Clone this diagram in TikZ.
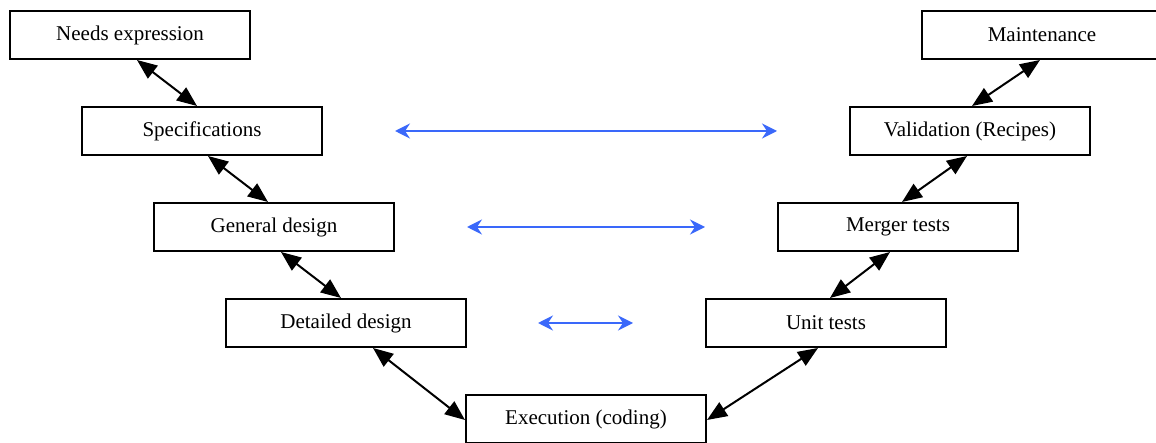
\documentclass[tikz,border=0pt]{standalone}
\usepackage{fontspec}
\setmainfont{Liberation Serif}
\usepackage{tikz}
\usetikzlibrary{arrows.meta}
\definecolor{linkblue}{RGB}{58,104,250}

\begin{document}
\begin{tikzpicture}[x=1pt,y=-1pt,
  phase/.style={draw, line width=2pt, rectangle, minimum width=240pt, minimum height=48pt,
    inner sep=0pt, font=\fontsize{21}{25}\selectfont},
  vlink/.style={line width=2pt, {Triangle[length=20pt,width=16pt]}-{Triangle[length=20pt,width=16pt]}},
  hlink/.style={line width=2pt, linkblue, {Stealth[length=15pt,width=15pt,inset=5pt]}-{Stealth[length=15pt,width=15pt,inset=5pt]}}]
\useasboundingbox (0,0) rectangle (1156,443);
%
\node[phase] (needs) at (130,35) {Needs expression};
\node[phase] (spec) at (202,131) {Specifications};
\node[phase] (gen) at (274,227) {General design};
\node[phase] (det) at (346,323) {Detailed design};
\node[phase] (exec) at (586,419) {Execution (coding)};
\node[phase] (unit) at (826,323) {Unit tests};
\node[phase] (merge) at (898,227) {Merger tests};
\node[phase] (valid) at (970,131) {Validation (Recipes)};
\node[phase] (maint) at (1042,35) {Maintenance};
%
\draw[vlink] ([xshift=7pt]needs.south) -- ([xshift=-5pt]spec.north);
\draw[vlink] ([xshift=6pt]spec.south) -- ([xshift=-6pt]gen.north);
\draw[vlink] ([xshift=7pt]gen.south) -- ([xshift=-5pt]det.north);
\draw[vlink] ([xshift=27pt]det.south) -- ([yshift=-1pt]exec.west);
\draw[vlink] ([yshift=-1pt]exec.east) -- ([xshift=-8pt]unit.south);
\draw[vlink] ([xshift=4pt]unit.north) -- ([xshift=-8pt]merge.south);
\draw[vlink] ([xshift=4pt]merge.north) -- ([xshift=-3pt]valid.south);
\draw[vlink] ([xshift=2pt]valid.north) -- ([xshift=-2pt]maint.south);
%
\coordinate (s1) at (395,131);
\coordinate (v1) at (777,131);
\coordinate (s2) at (467,227);
\coordinate (v2) at (705,227);
\coordinate (s3) at (538,323);
\coordinate (v3) at (633,323);
\draw[hlink] (s1) -- (v1);
\draw[hlink] (s2) -- (v2);
\draw[hlink] (s3) -- (v3);
\end{tikzpicture}
\end{document}
